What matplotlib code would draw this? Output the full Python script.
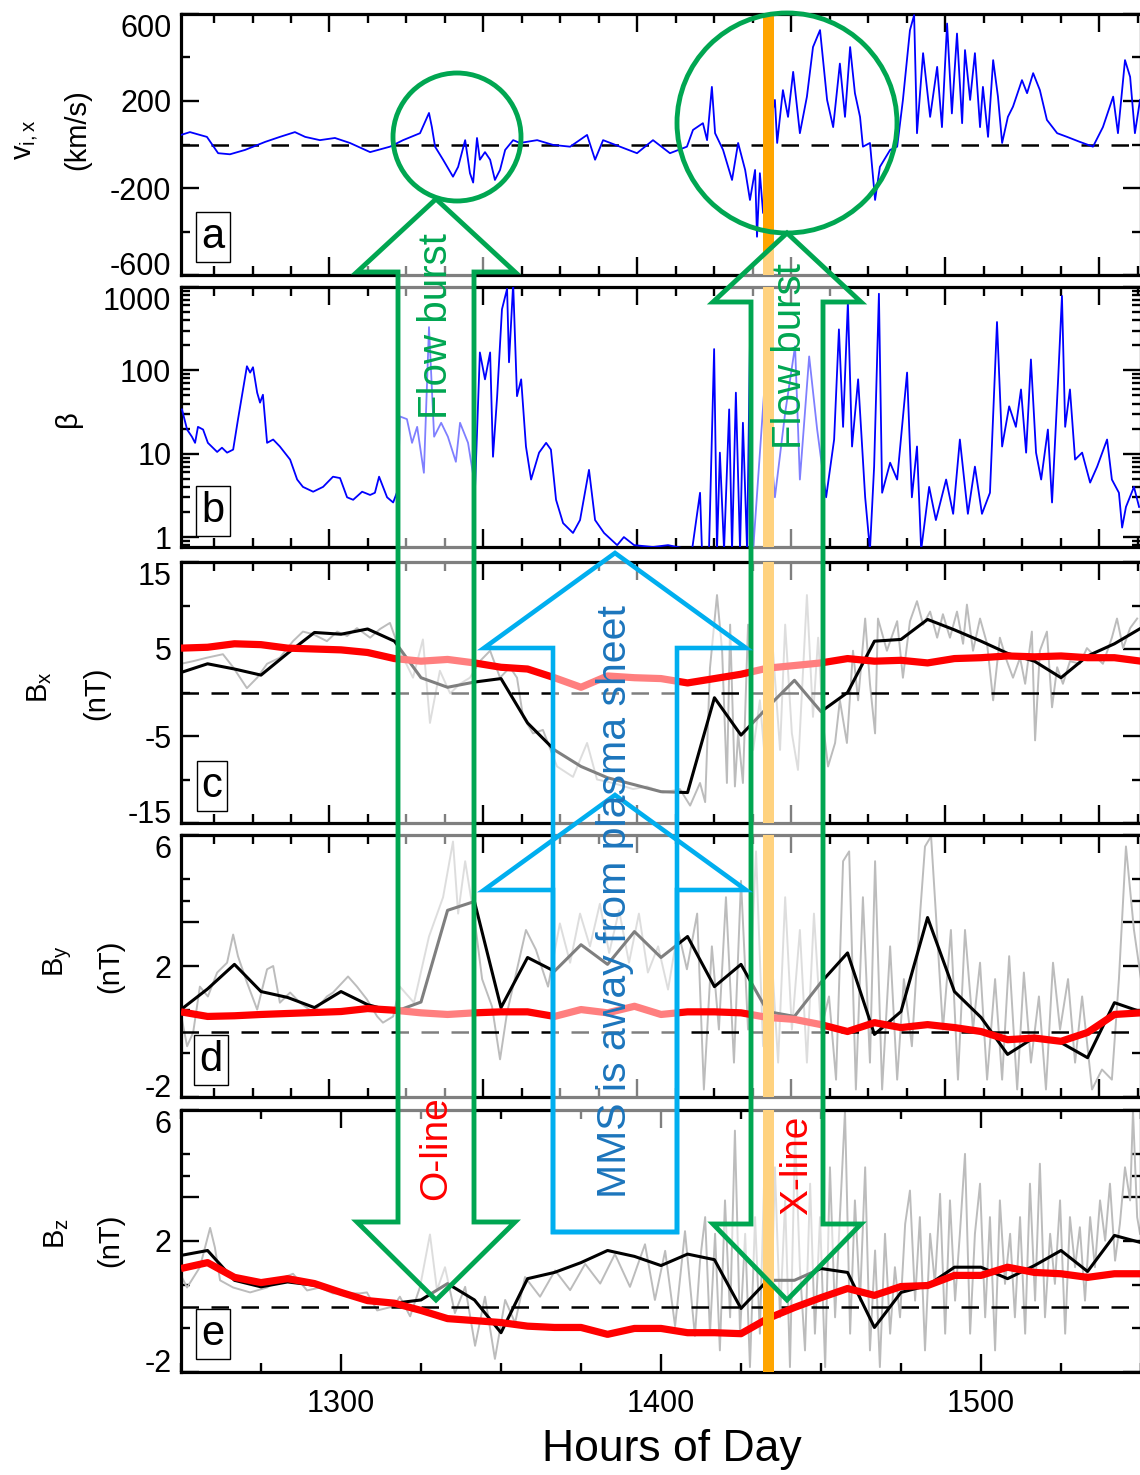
import numpy as np
import matplotlib
matplotlib.use('Agg')
import matplotlib.pyplot as plt
from matplotlib.patches import Polygon, Circle
from matplotlib.ticker import FixedLocator, NullFormatter, FixedFormatter, LogLocator

plt.rcParams['font.family'] = ['Liberation Sans', 'DejaVu Sans']
plt.rcParams['mathtext.fontset'] = 'custom'
plt.rcParams['mathtext.rm'] = 'Liberation Sans'
plt.rcParams['mathtext.it'] = 'Liberation Sans:italic'
plt.rcParams['axes.unicode_minus'] = False

# ---------------- data ----------------
t_vix = [1250.0, 1252.8, 1255.9, 1258.1, 1261.6, 1265.3, 1270.0, 1276.3, 1280.9, 1285.6, 1288.8, 1293.4,
         1298.1, 1302.8, 1309.1, 1315.3, 1319.4, 1324.7, 1327.5, 1328.4, 1329.4, 1331.9, 1335.0, 1336.6,
         1338.8, 1340.3, 1341.3, 1342.5, 1343.4, 1345.0, 1346.6, 1348.1, 1349.7, 1351.3, 1353.8, 1355.9,
         1361.3, 1366.3, 1371.6, 1376.9, 1379.4, 1381.9, 1387.2, 1392.5, 1397.5, 1402.8, 1408.1, 1410.0,
         1413.1, 1414.4, 1415.9, 1416.9, 1419.4, 1422.2, 1424.1, 1426.3, 1427.8, 1429.4, 1430.0, 1430.9,
         1431.9, 1432.8, 1434.1, 1435.6, 1436.3, 1438.1, 1439.7, 1441.3, 1443.4, 1445.6, 1447.5, 1449.7,
         1451.9, 1453.8, 1455.9, 1457.5, 1459.1, 1460.6, 1462.2, 1463.1, 1465.3, 1466.9, 1468.4, 1471.6,
         1473.8, 1475.6, 1477.8, 1479.1, 1480.0, 1481.9, 1484.1, 1486.3, 1487.8, 1489.4, 1490.9, 1492.5,
         1494.1, 1495.0, 1496.6, 1498.1, 1499.7, 1500.6, 1502.2, 1503.8, 1505.3, 1506.6, 1508.4, 1510.0,
         1512.8, 1514.4, 1516.3, 1518.4, 1520.6, 1523.8, 1526.9, 1530.9, 1535.0, 1538.1, 1541.3, 1542.8,
         1545.0, 1546.6, 1548.1, 1549.7]
vix = [44, 57, 44, 35, -40, -45, -25, 12, 35, 57, 35, 20,
       30, 7, -35, -10, 20, 52, 145, 80, -10, -70, -148, -103,
       20, -132, -175, 30, -70, -35, -70, -163, -117, -25, 20, 7,
       20, -2, -10, 44, -70, 20, -10, -40, 20, -40, -10, 67,
       98, 20, 265, 52, -25, -163, 7, -117, -255, -117, -424, -132,
       -315, -200, 100, 205, 7, 250, 127, 334, 52, 220, 448, 526,
       205, 80, 372, 127, 448, 236, 127, -10, 7, -255, -103, -25,
       -10, 205, 526, 595, 52, 420, 127, 357, 80, 556, 143, 510,
       98, 434, 205, 420, 80, 265, 35, 388, 220, 7, 127, 174,
       296, 236, 328, 250, 113, 52, 35, 12, -10, 80, 220, 52,
       388, 311, 52, 205]

t_beta = [1250.3, 1251.9, 1253.4, 1254.4, 1255.3, 1256.9, 1258.4, 1261.3, 1262.8, 1264.4, 1266.3, 1267.8,
          1269.4, 1270.6, 1271.6, 1272.5, 1273.8, 1274.7, 1275.6, 1276.9, 1278.8, 1280.9, 1284.1, 1286.3,
          1288.1, 1291.3, 1294.4, 1297.5, 1299.7, 1301.9, 1303.8, 1306.6, 1309.1, 1310.6, 1311.9, 1314.4,
          1316.3, 1317.8, 1318.4, 1320.6, 1322.2, 1323.8, 1325.9, 1327.5, 1329.1, 1331.3, 1333.4, 1335.9,
          1337.2, 1339.7, 1341.9, 1343.4, 1345.0, 1346.6, 1347.5, 1348.8, 1350.3, 1351.9, 1352.5, 1353.8,
          1355.0, 1356.3, 1357.8, 1359.4, 1361.9, 1364.1, 1365.6, 1367.2, 1369.4, 1372.5, 1374.7, 1377.5,
          1379.4, 1382.2, 1386.3, 1388.4, 1391.6, 1397.5, 1402.2, 1409.7, 1412.2, 1412.8, 1415.0, 1416.6,
          1417.5, 1418.4, 1419.7, 1421.3, 1422.2, 1423.4, 1424.7, 1425.6, 1426.9, 1427.8, 1428.8, 1432.5,
          1435.6, 1438.8, 1441.9, 1443.4, 1446.3, 1448.8, 1451.6, 1454.1, 1455.6, 1456.9, 1458.4, 1459.7,
          1461.6, 1463.8, 1465.3, 1466.6, 1468.1, 1469.1, 1471.6, 1473.8, 1476.9, 1478.4, 1480.0, 1481.3,
          1483.8, 1485.9, 1489.1, 1491.3, 1493.4, 1495.9, 1498.1, 1500.3, 1502.8, 1505.0, 1506.6, 1508.8,
          1510.9, 1512.5, 1514.1, 1515.6, 1517.2, 1518.8, 1520.9, 1522.2, 1524.1, 1525.3, 1526.3, 1527.8,
          1529.4, 1531.6, 1534.1, 1536.3, 1539.4, 1540.9, 1543.1, 1544.1, 1545.3, 1547.8, 1549.4]
beta = [34, 19.5, 16, 13.5, 21, 19.5, 13.5, 10.5, 11.8, 10.3, 11.2, 25.7,
        59, 112, 94, 109, 54, 41, 51, 13.5, 14.8, 12.2, 8.5, 4.9,
        4.0, 3.5, 4.0, 5.3, 5.1, 3.0, 2.8, 3.5, 3.2, 3.4, 5.3, 3.0,
        2.6, 3.7, 28, 26, 13.5, 21, 5.9, 330, 16, 23.5, 16, 8,
        23.5, 13.5, 4.0, 164, 78, 164, 9.2, 49, 540, 950, 125, 1100,
        49, 78, 12.2, 4.9, 10.3, 13.5, 11.2, 2.8, 1.47, 1.12, 1.6, 6.4,
        1.6, 1.12, 0.8, 1.0, 0.8, 0.76, 0.8, 0.7, 3.4, 0.7, 0.7, 180,
        0.7, 10.3, 0.7, 34, 0.7, 54, 0.7, 23.5, 0.7, 218, 0.7, 78,
        3.0, 31, 195, 4.9, 147, 19.5, 3.0, 14.8, 310, 21, 660, 12.2,
        78, 3.0, 0.7, 7, 830, 3.4, 7.8, 4.9, 94, 3.0, 12.2, 0.7,
        4.0, 1.6, 4.9, 1.9, 14.8, 1.9, 7, 1.9, 3.4, 380, 12.2, 37,
        21, 59, 10.3, 135, 10.3, 4.9, 19.5, 2.6, 78, 780, 21, 59,
        8.5, 10.3, 4.5, 7, 14.8, 4.9, 3.4, 1.3, 2.3, 4.0, 2.3]

# coarse (black) and smoothed (red) magnetic field samples
t_node = [1250.0, 1258.3, 1266.7, 1275.0, 1283.3, 1291.7, 1300.0, 1308.3, 1316.7, 1325.0, 1333.3, 1341.7,
          1350.0, 1358.3, 1366.7, 1375.0, 1383.3, 1391.7, 1400.0, 1408.3, 1416.7, 1425.0, 1433.3, 1441.7,
          1450.0, 1458.3, 1466.7, 1475.0, 1483.3, 1491.7, 1500.0, 1508.3, 1516.7, 1525.0, 1533.3, 1541.7,
          1550.0]
bx_black = [2.3, 3.3, 2.7, 2.0, 4.5, 6.9, 6.7, 7.3, 5.9, 1.7, 0.6, 1.2, 1.6, -3.5, -6.6, -8.5, -9.8, -10.6,
            -11.4, -11.5, -0.6, -4.9, -1.7, 1.4, -2.2, 0.0, 5.9, 6.1, 8.4, 7.2, 5.9, 4.5, 3.6, 1.7, 4.2, 5.6, 7.4]
bx_red = [5.1, 5.2, 5.6, 5.5, 5.1, 5.0, 4.9, 4.6, 3.9, 3.6, 3.8, 3.4, 2.9, 2.7, 1.7, 0.6, 1.9, 1.7,
          1.6, 1.1, 1.6, 2.1, 2.8, 3.1, 3.4, 3.9, 3.6, 3.7, 3.4, 3.9, 4.0, 4.2, 4.1, 4.2, 4.0, 4.0, 3.6]
by_black = [0.67, 1.3, 2.05, 1.22, 1.04, 0.73, 1.22, 0.82, 0.6, 0.9, 3.7, 3.97, 0.73, 2.26, 1.84, 2.65, 2.05,
            3.05, 2.26, 2.9, 1.37, 2.05, 0.61, 0.46, 1.5, 2.4, -0.09, 0.61, 3.48, 1.22, 0.43, -0.7, -0.18,
            -0.34, -0.8, 0.88, 0.6]
by_red = [0.6, 0.46, 0.48, 0.52, 0.55, 0.58, 0.61, 0.7, 0.65, 0.57, 0.52, 0.57, 0.6, 0.6, 0.46, 0.67, 0.57,
          0.77, 0.52, 0.6, 0.6, 0.57, 0.43, 0.37, 0.21, 0.0, 0.27, 0.12, 0.21, 0.12, 0.0, -0.25, -0.2, -0.3,
          -0.03, 0.52, 0.57]
bz_black = [1.56, 1.71, 0.8, 0.6, 0.75, 0.65, 0.45, 0.2, 0.1, 0.2, 0.7, 0.2, -0.8, 0.85, 1.04, 1.34, 1.71,
            1.53, 1.25, 1.6, 1.43, -0.06, 0.8, 0.8, 1.16, 1.04, -0.64, 0.43, 0.64, 1.2, 1.2, 0.85, 1.25, 1.71,
            1.07, 2.17, 1.95]
bz_red = [1.16, 1.34, 0.89, 0.73, 0.85, 0.7, 0.43, 0.18, 0.1, -0.12, -0.37, -0.43, -0.49, -0.6, -0.64, -0.64,
          -0.85, -0.67, -0.67, -0.8, -0.8, -0.83, -0.37, -0.03, 0.27, 0.55, 0.34, 0.61, 0.64, 0.95, 0.95, 1.2,
          1.04, 1.0, 0.89, 1.0, 1.0]

# high resolution (grey) field
t_bx = [1250.0, 1253.8, 1258.1, 1263.1, 1266.3, 1270.6, 1273.8, 1276.9, 1280.9, 1285.0, 1288.1, 1291.3,
        1295.6, 1298.8, 1301.9, 1305.0, 1309.1, 1312.2, 1315.3, 1318.4, 1322.5, 1325.6, 1327.8, 1330.9,
        1334.1, 1337.2, 1340.3, 1343.4, 1346.6, 1349.7, 1352.8, 1355.0, 1356.9, 1360.0, 1363.1, 1367.5,
        1372.5, 1376.9, 1380.0, 1385.0, 1391.3, 1395.6, 1400.6, 1405.9, 1409.1, 1412.2, 1413.8, 1415.3,
        1417.5, 1419.1, 1420.6, 1421.6, 1423.1, 1424.1, 1425.6, 1427.2, 1428.8, 1430.9, 1433.1, 1435.0,
        1437.2, 1438.8, 1440.9, 1442.8, 1445.6, 1447.5, 1449.1, 1450.6, 1452.2, 1454.4, 1455.9, 1458.1,
        1460.0, 1461.6, 1463.8, 1465.3, 1466.9, 1467.8, 1470.6, 1473.8, 1475.6, 1477.8, 1480.0, 1481.9,
        1484.1, 1486.3, 1488.1, 1490.3, 1492.5, 1494.4, 1495.6, 1497.5, 1499.7, 1501.9, 1503.8, 1505.9,
        1508.1, 1510.0, 1512.2, 1513.8, 1515.9, 1516.9, 1518.4, 1520.6, 1522.2, 1523.8, 1525.6, 1527.8,
        1530.9, 1533.1, 1535.0, 1538.1, 1540.9, 1542.5, 1544.4, 1546.6, 1548.8]
bx_grey = [3.3, 3.6, 4.0, 4.4, 2.9, 0.5, 1.7, 3.3, 4.0, 5.9, 7.0, 6.7,
           5.9, 7.0, 6.5, 7.4, 6.3, 7.3, 8.0, 4.8, 1.7, 6.1, -3.5, 2.5,
           -0.1, 1.0, 1.7, 3.6, 4.8, 1.7, 2.9, 1.7, -2.8, -4.7, -4.3, -8.5,
           -9.7, -5.8, -10.0, -10.4, -11.1, -10.8, -11.5, -11.1, -13.0, -10.4, -12.6, 2.8,
           11.2, 4.8, -10.4, 7.8, -10.8, -4.7, -10.4, 7.8, -6.6, -0.9, -10.4, 4.8,
           -6.6, 7.8, -4.7, -8.9, 11.2, -2.8, 6.3, -3.5, -8.5, -5.8, -0.9, -5.8,
           4.8, -0.9, 8.5, 1.0, -4.7, 8.5, 4.8, 8.2, 1.7, 8.2, 10.5, 7.8,
           9.3, 6.3, 9.0, 6.3, 9.3, 5.6, 10.1, 4.8, 8.5, 5.6, -0.9, 6.3,
           3.6, 1.7, 4.0, 1.0, 7.0, -5.5, 4.8, 7.0, -1.7, 2.9, 1.0, 3.6,
           3.3, 5.1, 4.4, 3.3, 6.3, 8.5, 5.1, 7.4, 8.5]

t_by = [1250.3, 1251.9, 1253.8, 1255.9, 1258.4, 1261.3, 1264.4, 1266.3, 1267.8, 1270.6, 1273.8, 1276.9,
        1278.8, 1280.9, 1284.1, 1287.2, 1291.3, 1295.6, 1297.5, 1302.2, 1305.0, 1308.1, 1311.3, 1313.1,
        1316.3, 1318.4, 1322.8, 1327.5, 1331.9, 1335.0, 1336.6, 1338.8, 1341.9, 1344.1, 1347.2, 1349.7,
        1351.9, 1355.0, 1357.8, 1360.9, 1364.7, 1368.4, 1371.6, 1374.7, 1377.8, 1380.9, 1383.8, 1386.9,
        1390.0, 1393.1, 1395.9, 1399.1, 1402.2, 1405.3, 1408.1, 1411.3, 1413.4, 1415.9, 1418.1, 1420.3,
        1422.8, 1425.0, 1427.2, 1429.7, 1431.9, 1434.1, 1436.6, 1438.8, 1440.9, 1443.4, 1445.6, 1447.8,
        1450.0, 1452.5, 1454.7, 1456.9, 1458.8, 1460.9, 1463.1, 1465.3, 1466.9, 1469.1, 1471.6, 1473.8,
        1475.9, 1478.4, 1480.6, 1482.5, 1484.4, 1485.9, 1488.1, 1490.6, 1492.8, 1495.0, 1497.5, 1499.7,
        1501.9, 1504.4, 1506.6, 1508.8, 1511.3, 1513.4, 1515.6, 1518.1, 1520.3, 1522.5, 1524.7, 1527.2,
        1529.4, 1531.6, 1534.7, 1537.8, 1540.9, 1543.1, 1545.3, 1547.8, 1550.0]
by_grey = [0.37, -0.45, -0.03, 1.37, 1.07, 1.8, 2.1, 2.96, 2.3, 1.5, 0.67, 1.9,
           2.0, 0.88, 1.19, 0.88, 0.58, 1.07, 1.19, 1.68, 1.37, 0.98, 0.46, 0.27,
           0.46, 1.37, 0.88, 2.9, 4.1, 5.8, 3.6, 5.2, 3.3, 1.6, 0.76, -0.85,
           0.58, 1.9, 3.1, 2.5, 1.37, 3.3, 2.1, 3.6, 2.6, 3.9, 2.4, 3.7,
           2.1, 3.6, 1.8, 2.6, 1.28, 3.1, 1.9, 3.6, -1.77, 2.6, 0.06, 4.1,
           -0.95, 4.6, 0.06, 5.5, -0.45, 3.1, -0.95, 4.1, 0.06, 3.1, -0.95, 3.6,
           0.06, 1.07, -1.47, 5.2, 5.5, -1.77, 4.1, -0.95, 5.2, -1.77, 2.6, -1.47,
           1.6, -0.45, 3.1, 5.65, 5.96, 3.6, 0.06, 3.1, -1.47, 3.1, 0.06, 2.1,
           -1.47, 1.6, -1.47, 2.3, -1.77, 1.8, -0.95, 1.07, -1.77, 2.1, 0.06, 1.6,
           -0.95, 1.07, -1.77, -1.16, -1.47, 1.6, 5.65, 3.1, 1.6]

t_bz = [1250.3, 1251.9, 1255.9, 1259.1, 1260.6, 1262.2, 1266.3, 1271.6, 1276.9, 1280.0, 1285.0, 1289.4,
        1293.4, 1297.5, 1305.9, 1308.1, 1311.3, 1316.3, 1318.4, 1321.6, 1324.7, 1327.8, 1330.0, 1332.5,
        1335.6, 1338.8, 1341.9, 1345.0, 1348.1, 1351.3, 1354.4, 1357.5, 1362.2, 1366.9, 1371.6, 1376.3,
        1381.0, 1385.6, 1390.3, 1395.0, 1398.1, 1401.3, 1404.4, 1407.5, 1410.6, 1412.2, 1413.8, 1415.3,
        1416.9, 1418.4, 1420.0, 1421.6, 1423.1, 1424.7, 1426.3, 1427.8, 1429.4, 1430.9, 1432.5, 1434.1,
        1435.6, 1437.2, 1438.8, 1440.3, 1441.9, 1443.4, 1445.0, 1446.6, 1448.1, 1449.7, 1451.3, 1452.8,
        1454.4, 1455.9, 1457.5, 1459.1, 1460.6, 1462.2, 1463.8, 1465.3, 1466.9, 1468.4, 1470.0, 1471.6,
        1473.1, 1474.7, 1476.3, 1477.8, 1479.4, 1480.9, 1482.5, 1484.1, 1485.6, 1487.2, 1488.8, 1490.3,
        1491.9, 1493.4, 1495.0, 1496.6, 1498.1, 1499.7, 1501.3, 1502.8, 1504.4, 1505.9, 1507.5, 1509.1,
        1510.6, 1512.2, 1513.8, 1515.3, 1516.9, 1518.4, 1520.0, 1521.6, 1523.1, 1524.7, 1526.3, 1527.8,
        1529.4, 1530.9, 1532.5, 1534.1, 1535.6, 1537.2, 1538.8, 1540.3, 1541.9, 1543.4, 1545.0, 1546.6,
        1547.5, 1548.8, 1549.7]
bz_grey = [0.89, 0.58, 1.2, 2.4, 1.8, 0.8, 0.58, 0.43, 0.58, 0.8, 1.0, 0.49,
           0.58, 0.4, 0.4, 0.43, -0.12, 0.0, 0.3, -0.3, 0.6, 2.2, 0.5, 1.2,
           -0.2, 0.6, -1.2, 0.3, -1.6, 0.2, -0.5, 0.9, 0.3, 1.1, 0.5, 1.3,
           0.7, 1.6, 0.6, 1.9, 0.2, 1.7, -0.6, 2.3, -0.9, 1.40, 2.73, -0.83,
           2.22, -1.34, 3.24, -0.33, 5.37, -0.83, 2.22, -1.85, 2.73, -0.83, 4.76, -1.34,
           4.25, -0.33, 3.24, -1.85, 5.27, 1.2, -1.34, 3.75, -0.83, 2.73, -1.85, 4.25,
           -0.33, 2.73, 5.98, -0.83, 3.24, 0.18, 4.25, -1.34, 1.71, -1.85, 2.22, -0.83,
           1.2, -0.33, 2.52, 3.54, 0.18, 2.73, -1.34, 2.22, 0.69, 3.44, -0.83, 3.24,
           0.18, 2.22, 4.66, -0.83, 2.22, 3.75, -0.33, 2.73, -1.34, 3.24, 0.69, 2.22,
           -0.33, 2.73, -0.83, 3.75, 0.18, 4.36, -0.33, 2.22, 0.69, 3.24, -0.83, 2.73,
           1.2, 2.42, 0.18, 2.73, 1.2, 3.24, 2.01, 3.75, 1.4, 2.52, 4.25, 3.24,
           5.98, 2.73, 2.22]

t_xline = 1433.6          # time of the X-line crossing (orange bar)

# ---------------- figure ----------------
W, H = 1140, 1475
fig = plt.figure(figsize=(W / 100, H / 100), dpi=100)


def fx(x):
    return x / W


def fy(y):
    return 1 - y / H


panels_px = [(14, 275), (287, 547), (562, 823), (835, 1097), (1110, 1372)]
left, right = 181, 1141
axes = []
for top, bot in panels_px:
    ax = fig.add_axes([fx(left), fy(bot), (right - left) / W, (bot - top) / H])
    axes.append(ax)
ax_a, ax_b, ax_c, ax_d, ax_e = axes

GREY = '#bcbcbc'
DASH = (0, (7, 5))


def style(ax, xmaj, xmin):
    for s in ax.spines.values():
        s.set_linewidth(2.3)
    ax.set_xlim(1250, 1550)
    ax.xaxis.set_major_locator(FixedLocator(xmaj))
    ax.xaxis.set_minor_locator(FixedLocator(xmin))
    ax.tick_params(which='both', direction='in', top=True, right=True, width=1.7,
                   labelsize=22, pad=7)
    ax.tick_params(which='major', length=13)
    ax.tick_params(which='minor', length=6.5)
    ax.tick_params(axis='x', which='both', pad=12)


xmaj_ad = [1248.3, 1296.4, 1344.5, 1392.6, 1440.7, 1488.8, 1536.9]
xmin_ad = list(np.arange(1248.3, 1551, 12.025))
xmaj_e = [1300, 1400, 1500]
xmin_e = [1250, 1275, 1325, 1350, 1375, 1425, 1450, 1475, 1525, 1550]

# panel a
ax_a.plot(t_vix, vix, color='#0000ff', lw=1.3, zorder=3)
ax_a.axhline(0, color='k', lw=1.8, ls=DASH, zorder=2)
ax_a.set_ylim(-600, 600)
ax_a.yaxis.set_major_locator(FixedLocator([-600, -200, 200, 600]))
ax_a.yaxis.set_minor_locator(FixedLocator([-400, 0, 400]))

# panel b
ax_b.semilogy(t_beta, beta, color='#0000ff', lw=1.3, zorder=3)
ax_b.set_ylim(0.76, 1000)
ax_b.yaxis.set_major_locator(FixedLocator([1, 10, 100, 1000]))
ax_b.yaxis.set_major_formatter(FixedFormatter(['1', '10', '100', '1000']))
ax_b.yaxis.set_minor_locator(LogLocator(base=10, subs=np.arange(2, 10)))
ax_b.yaxis.set_minor_formatter(NullFormatter())

# panel c
ax_c.plot(t_bx, bx_grey, color=GREY, lw=1.4, zorder=2)
ax_c.axhline(0, color='k', lw=1.8, ls=DASH, zorder=2.5)
ax_c.plot(t_node, bx_black, color='k', lw=2.2, zorder=3)
ax_c.plot(t_node, bx_red, color='#ff0000', lw=5.2, zorder=4, solid_capstyle='butt')
ax_c.set_ylim(-15, 15)
ax_c.yaxis.set_major_locator(FixedLocator([-15, -5, 5, 15]))
ax_c.yaxis.set_minor_locator(FixedLocator([-10, 0, 10]))

# panel d / e
for ax, grey_t, grey_v, blk, red in [(ax_d, t_by, by_grey, by_black, by_red),
                                       (ax_e, t_bz, bz_grey, bz_black, bz_red)]:
    ax.plot(grey_t, grey_v, color=GREY, lw=1.4, zorder=2)
    ax.axhline(0, color='k', lw=1.8, ls=DASH, zorder=2.5)
    ax.plot(t_node, blk, color='k', lw=2.2, zorder=3)
    ax.plot(t_node, red, color='#ff0000', lw=5.2, zorder=4, solid_capstyle='butt')
    ax.set_ylim(-2, 6)
    ax.yaxis.set_major_locator(FixedLocator([-2, 2, 3.333, 6]))
    ax.yaxis.set_major_formatter(FixedFormatter(['-2', '2', '', '6']))
    ax.yaxis.set_minor_locator(FixedLocator([-0.667, 0.667, 4, 4.667]))

for ax in axes:
    ax.axvspan(t_xline - 1.6, t_xline + 1.6, color='#ffa500', lw=0, zorder=5)

for ax in axes[:4]:
    style(ax, xmaj_ad, xmin_ad)
    ax.tick_params(axis='x', labelbottom=False)
style(ax_e, xmaj_e, xmin_e)
ax_e.xaxis.set_major_formatter(FixedFormatter(['1300', '1400', '1500']))

# edge labels shifted inside like the original
for ax, has_bottom in [(ax_a, True), (ax_b, False), (ax_c, True), (ax_d, True), (ax_e, True)]:
    ticks = ax.yaxis.get_major_ticks()
    ticks[-1].label1.set_va('top')
    if has_bottom:
        ticks[0].label1.set_va('baseline')


# y labels
def ylab(x, y, s, size=21):
    fig.text(fx(x), fy(y), s, rotation=90, ha='center', va='center', fontsize=size)


ylab(27, 140, r'v$_{\mathrm{i,x}}$')
ylab(77, 130, '(km/s)')
ylab(68, 419, 'β')
ylab(40, 687, r'B$_{\mathrm{x}}$')
ylab(96, 693, '(nT)')
ylab(58, 961, r'B$_{\mathrm{y}}$')
ylab(110, 966, '(nT)')
ylab(57, 1234, r'B$_{\mathrm{z}}$')
ylab(110, 1240, '(nT)')

fig.text(fx(672), fy(1450), 'Hours of Day', ha='center', va='center', fontsize=32)

# panel letters
for (x, y), s in zip([(213, 237), (213, 511), (212, 786), (211, 1060), (213, 1334)], 'abcde'):
    fig.text(fx(x), fy(y), s, ha='center', va='center', fontsize=30, zorder=20,
             bbox=dict(boxstyle='square,pad=0.12', fc='white', ec='black', lw=1.0))

# ---------------- annotation overlay ----------------
ov = fig.add_axes([0, 0, 1, 1], zorder=10)
ov.set_xlim(0, W)
ov.set_ylim(H, 0)
ov.axis('off')
ov.patch.set_visible(False)

GREEN = '#00a651'
LBLUE = '#00aeef'
FILL = (1, 1, 1, 0.5)


def double_arrow(cx, hs, hh, top_apex, top_base, bot_base, bot_apex):
    pts = [(cx, top_apex), (cx + hh, top_base), (cx + hs, top_base), (cx + hs, bot_base),
           (cx + hh, bot_base), (cx, bot_apex), (cx - hh, bot_base), (cx - hs, bot_base),
           (cx - hs, top_base), (cx - hh, top_base)]
    ov.add_patch(Polygon(pts, closed=True, fc=FILL, ec=GREEN, lw=3.5, joinstyle='miter'))


double_arrow(436, 38, 79, 199, 272, 1222, 1300)
double_arrow(787, 36, 74, 233, 302, 1224, 1300)
ov.add_patch(Circle((457, 137), 64, fill=False, ec=GREEN, lw=3.5))
ov.add_patch(Circle((787, 123), 110, fill=False, ec=GREEN, lw=3.5))


def up_arrow(cx, hs, hh, apex, base, bottom, fill):
    pts = [(cx, apex), (cx + hh, base), (cx + hs, base), (cx + hs, bottom),
           (cx - hs, bottom), (cx - hs, base), (cx - hh, base)]
    ov.add_patch(Polygon(pts, closed=True, fc=FILL if fill else 'none', ec=LBLUE, lw=3.3,
                         joinstyle='miter'))


up_arrow(615, 62, 131, 553, 648, 1232, True)
up_arrow(615, 62, 131, 795, 890, 1232, False)

ov.text(436, 326, 'Flow burst', rotation=90, color=GREEN, fontsize=29, ha='center', va='center')
ov.text(790, 356, 'Flow burst', rotation=90, color=GREEN, fontsize=29, ha='center', va='center')
ov.text(615, 902, 'MMS is away from plasma sheet', rotation=90, color='#1c75bc', fontsize=29.5,
        ha='center', va='center')
ov.text(436, 1148, 'O-line', rotation=90, color='#ff0000', fontsize=28, ha='center', va='center')
ov.text(797, 1165, 'X-line', rotation=90, color='#ff0000', fontsize=28, ha='center', va='center')

fig.savefig('out.png', dpi=100)
